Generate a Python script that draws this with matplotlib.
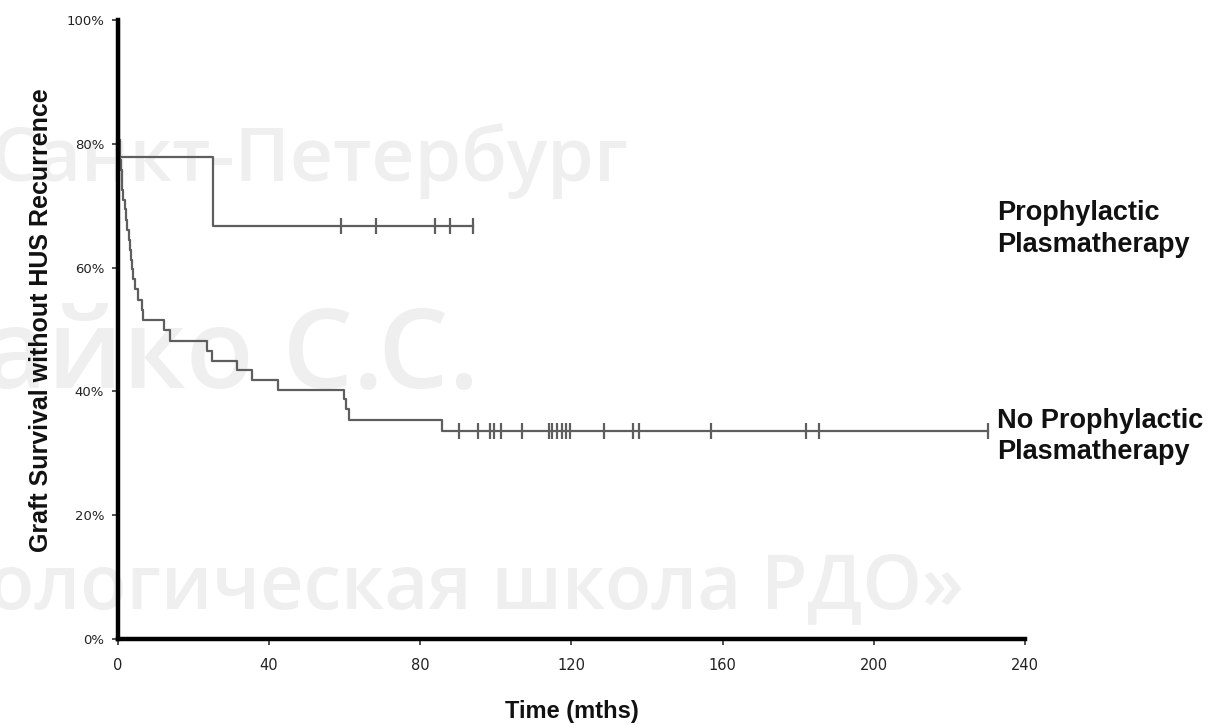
import numpy as np
import matplotlib
matplotlib.use("Agg")
import matplotlib.pyplot as plt

# Kaplan-Meier steps: event time (months) and survival (%) after it
upper_t = [0, 0.1, 25.2, 93.9]
upper_s = [100, 77.8, 66.7, 66.7]
upper_cens = [59.0, 68.4, 84.0, 87.8, 93.9]

lower_t = [0, 0.2, 0.5, 0.8, 1.0, 1.4, 1.8, 2.1, 2.5, 2.8, 3.1, 3.4, 3.7, 4.0,
           4.4, 5.2, 6.3, 6.5, 12.2, 13.8, 23.5, 24.9, 31.5, 35.5, 42.4,
           59.7, 60.4, 61.2, 85.7, 230.2]
lower_s = [100, 80.6, 77.4, 75.8, 72.6, 71.0, 69.4, 67.7, 66.1, 64.5, 62.9,
           61.3, 59.7, 58.1, 56.5, 54.8, 53.2, 51.5, 50.0, 48.2, 46.6, 44.9,
           43.5, 41.8, 40.3, 38.7, 37.1, 35.4, 33.6, 33.6]
lower_cens = [90.3, 95.4, 98.4, 99.6, 101.3, 106.8, 114.0, 114.8, 116.3, 117.4,
              118.6, 119.7, 128.6, 136.2, 137.9, 156.8, 182.0, 185.6, 230.2]

x_ticks = [0, 40, 80, 120, 160, 200, 240]
y_ticks = [0, 20, 40, 60, 80, 100]

line_col = "#5e5e5e"


def level_at(t, s, when):
    idx = np.searchsorted(t, when, side="right") - 1
    return np.asarray(s)[idx]


fig = plt.figure(figsize=(12.11, 7.25), dpi=100)
ax = fig.add_axes([0.0974, 0.1186, 0.7490, 0.8538])

# faint background lettering, kept under the axes artists
wm = dict(color="#efefef", family=["Open Sans", "DejaVu Sans"], zorder=0,
          fontweight="semibold", va="center", ha="left",
          transform=fig.transFigure, clip_on=False)
ax.text(-0.008, 0.778, "Санкт-Петербург", fontsize=54, **wm)
ax.text(-0.014, 0.504, "айко С.С.", fontsize=80, **wm)
ax.text(-0.010, 0.189, "ологическая школа РДО»", fontsize=54.5, **wm)

for t, s, cens in [(upper_t, upper_s, upper_cens), (lower_t, lower_s, lower_cens)]:
    ax.plot(t, s, drawstyle="steps-post", color=line_col, lw=1.6, zorder=2)
    ax.plot(cens, level_at(t, s, cens), ls="none", marker="|", ms=12,
            mew=1.6, color=line_col, zorder=2)

ax.set_xlim(0, 240)
ax.set_ylim(0, 100)
ax.patch.set_alpha(0)
for side in ("top", "right"):
    ax.spines[side].set_visible(False)
for side in ("left", "bottom"):
    ax.spines[side].set_linewidth(3.2)
    ax.spines[side].set_color("black")
    ax.spines[side].set_zorder(3)

tick_font = ["Liberation Sans Narrow", "DejaVu Sans"]
ax.set_xticks(x_ticks)
ax.set_xticklabels([str(v) for v in x_ticks], family=tick_font, fontsize=10.5, color="#222222")
ax.set_yticks(y_ticks)
ax.set_yticklabels([f"{v}%" for v in y_ticks], family=tick_font, fontsize=9.5, color="#222222")
ax.tick_params(axis="both", direction="out", length=4, width=1.2, color="#333333")
ax.tick_params(axis="x", pad=10)
ax.tick_params(axis="y", pad=6)

bold = dict(family=["Liberation Sans", "DejaVu Sans"], fontweight="bold", color="#111111")
ax.set_xlabel("Time (mths)", fontsize=17, **bold)
ax.xaxis.set_label_coords(0.5006, -0.098)
ax.set_ylabel("Graft Survival without HUS Recurrence", fontsize=18, **bold)
ax.yaxis.set_label_coords(-0.072, 0.515)

fig.text(0.823, 0.684, "Prophylactic\nPlasmatherapy", fontsize=19.5, va="center",
         ha="left", linespacing=1.26, **bold)
fig.text(0.823, 0.398, "No Prophylactic\nPlasmatherapy", fontsize=19.5, va="center",
         ha="left", linespacing=1.26, **bold)

fig.savefig("out.png", dpi=100, facecolor="white")
